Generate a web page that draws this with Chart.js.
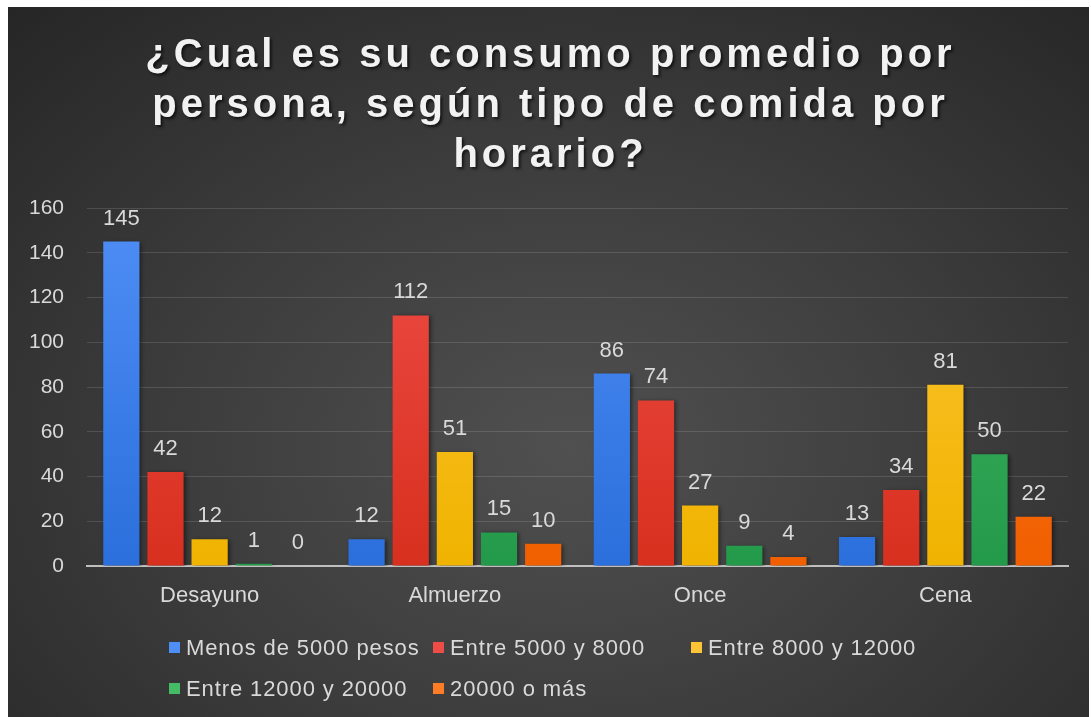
<!DOCTYPE html>
<html lang="es">
<head>
<meta charset="utf-8">
<title>Consumo promedio por persona</title>
<script src="https://cdn.jsdelivr.net/npm/chart.js@4.4.1/dist/chart.umd.min.js"></script>
<style>
  html, body { margin: 0; padding: 0; background: #ffffff; }
  #panel {
    position: absolute; left: 8px; top: 7px; width: 1081px; height: 710px; overflow: hidden;
    background: radial-gradient(ellipse 75% 85% at 52% 62%, #505050 0%, #3c3c3c 50%, #262626 100%);
    font-family: "Liberation Sans", Arial, sans-serif;
  }
  #chart { position: absolute; left: 0; top: 0; }
  #title {
    position: absolute; left: 0; top: 21px; width: 1081px; margin: 0; padding-left: 4px; box-sizing: border-box;
    text-align: center; color: #f2f2f2; font-weight: bold; font-size: 40px; line-height: 50px;
    letter-spacing: 4px; text-shadow: 2px 2px 3px rgba(0,0,0,0.65);
  }
  #legend {
    position: absolute; left: 161px; top: 620px;
    display: grid; grid-template-columns: 264px 258px 258px; grid-auto-rows: 41px;
    color: #d9d9d9; font-size: 22px; letter-spacing: 0.9px;
  }
  .item { display: flex; align-items: center; white-space: nowrap; }
  .key { width: 11px; height: 11px; margin-right: 6px; flex: none; }
</style>
</head>
<body>
<div id="panel">
  <canvas id="chart" width="1081" height="710"></canvas>
  <h1 id="title">¿Cual es su consumo promedio por<br>persona, según tipo de comida por<br>horario?</h1>
  <div id="legend"></div>
</div>
<script>
// ========== DATA ==========
const categories = ['Desayuno', 'Almuerzo', 'Once', 'Cena'];
const seriesNames = ['Menos de 5000 pesos', 'Entre 5000 y 8000', 'Entre 8000 y 12000', 'Entre 12000 y 20000', '20000 o más'];
const menos5000 = [145, 12, 86, 13];
const entre5000y8000 = [42, 112, 74, 34];
const entre8000y12000 = [12, 51, 27, 81];
const entre12000y20000 = [1, 15, 9, 50];
const mas20000 = [0, 10, 4, 22];
const yTicks = [0, 20, 40, 60, 80, 100, 120, 140, 160];

// top / bottom colours of each bar gradient
const COLORS = [
    ['#4f8ef6', '#2b6fdc'],
    ['#ee4d47', '#d8301f'],
    ['#fdc535', '#f0b300'],
    ['#44bb65', '#23994a'],
    ['#ff7e25', '#f05f00']
];

const seriesValues = [menos5000, entre5000y8000, entre8000y12000, entre12000y20000, mas20000];

function barGradient(idx) {
    return (ctx) => {
        const area = ctx.chart.chartArea;
        if (!area) return COLORS[idx][0];
        const g = ctx.chart.ctx.createLinearGradient(0, area.top, 0, area.bottom);
        g.addColorStop(0, COLORS[idx][0]);
        g.addColorStop(1, COLORS[idx][1]);
        return g;
    };
}

// value labels over the bars, bars get a soft drop shadow
const barExtras = {
    id: 'barExtras',
    beforeDatasetsDraw(chart) {
        const ctx = chart.ctx;
        ctx.save();
        ctx.shadowColor = 'rgba(0,0,0,0.45)';
        ctx.shadowBlur = 4;
        ctx.shadowOffsetX = 2;
        ctx.shadowOffsetY = 1;
    },
    afterDatasetsDraw(chart) {
        const ctx = chart.ctx;
        ctx.restore();
        ctx.save();
        ctx.font = '22px "Liberation Sans", Arial, sans-serif';
        ctx.fillStyle = '#d9d9d9';
        ctx.textAlign = 'center';
        ctx.textBaseline = 'alphabetic';
        chart.data.datasets.forEach((ds, i) => {
            chart.getDatasetMeta(i).data.forEach((bar, j) => {
                ctx.fillText(String(ds.data[j]), bar.x, bar.y - 17);
            });
        });
        ctx.restore();
    }
};

const chart = new Chart(document.getElementById('chart'), {
    type: 'bar',
    data: {
        labels: categories,
        datasets: seriesValues.map((vals, i) => ({
            label: seriesNames[i],
            data: vals,
            backgroundColor: barGradient(i),
            borderWidth: 0,
            categoryPercentage: 0.9,
            barPercentage: 0.82
        }))
    },
    options: {
        responsive: false,
        animation: false,
        layout: { padding: { top: 201, right: 21, bottom: 106, left: 0 } },
        plugins: { legend: { display: false }, title: { display: false }, tooltip: { enabled: false } },
        scales: {
            x: {
                grid: { display: false, drawTicks: false },
                border: { display: true, color: '#bfbfbf', width: 2 },
                ticks: { color: '#d9d9d9', padding: 17, font: { family: '"Liberation Sans", Arial, sans-serif', size: 22 } },
                afterFit: (s) => { s.height = 45; }
            },
            y: {
                min: 0, max: 160,
                afterBuildTicks: (s) => { s.ticks = yTicks.map(v => ({ value: v })); },
                grid: { color: 'rgba(255,255,255,0.13)', lineWidth: 1, drawTicks: false },
                border: { display: false },
                ticks: { color: '#d9d9d9', padding: 23, font: { family: '"Liberation Sans", Arial, sans-serif', size: 21 } },
                afterFit: (s) => { s.width = 79; }
            }
        }
    },
    plugins: [barExtras]
});

// legend laid out as a grid under the plot, three items per row
const legendEl = document.getElementById('legend');
seriesNames.forEach((name, i) => {
    const item = document.createElement('div');
    item.className = 'item';
    item.innerHTML = `<span class="key" style="background:${COLORS[i][0]}"></span><span>${name}</span>`;
    legendEl.appendChild(item);
});
</script>
</body>
</html>
